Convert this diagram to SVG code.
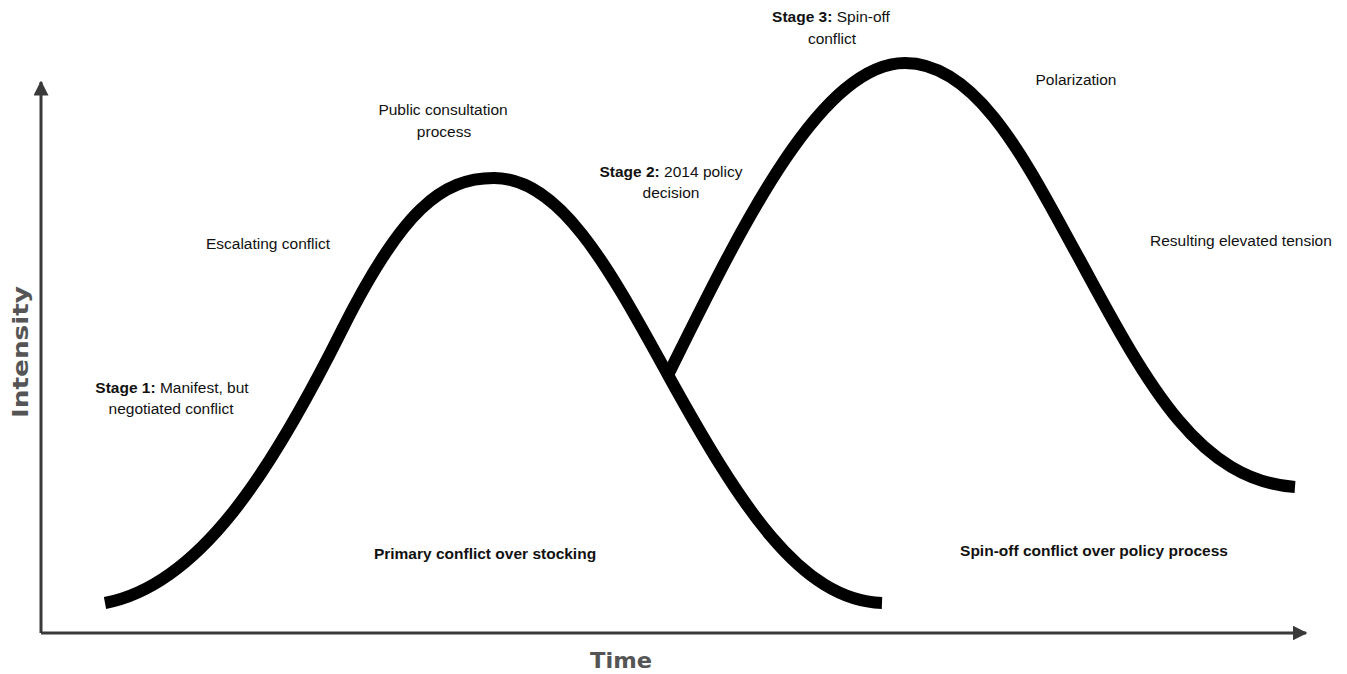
<svg xmlns="http://www.w3.org/2000/svg" width="1347" height="674" viewBox="0 0 1347 674">
<style>
.t{font-family:"Liberation Sans",Arial,sans-serif;font-size:15.5px;fill:#111;text-anchor:middle}
.s{text-anchor:start}
.b{font-weight:bold}
.ax{stroke:#3a3a3a;stroke-width:3;fill:none}
.cv{stroke:#000;stroke-width:12;fill:none;stroke-linecap:butt;stroke-linejoin:round}
.al{font-family:"DejaVu Sans",Verdana,sans-serif;font-weight:bold;font-size:22px;fill:#555;text-anchor:middle}
</style>
<defs>
<marker id="ah" viewBox="0 0 10 10" refX="9" refY="5" markerWidth="5" markerHeight="5" orient="auto" markerUnits="strokeWidth">
<path d="M0,0 L10,5 L0,10 z" fill="#3a3a3a"/>
</marker>
</defs>
<rect width="1347" height="674" fill="#fff"/>
<g id="axes">
<path class="ax" d="M41,633 L41,82" marker-end="url(#ah)"/>
<path class="ax" d="M41,633 L1306,633" marker-end="url(#ah)"/>
<text class="al" transform="translate(28,352) rotate(-90)" textLength="132" lengthAdjust="spacingAndGlyphs">Intensity</text>
<text class="al" x="621" y="668" textLength="62" lengthAdjust="spacingAndGlyphs">Time</text>
</g>
<g id="connectors">
<path id="curve1" class="cv" d="M105,603 C200,585 272,470 342,330 C402,210 442,178 494,178 C561,178 610,270 668,375 C740,505 800,600 882,603"/>
<path id="curve2" class="cv" d="M668,375 C740,230 820,63 905,63 C980,63 1030,170 1080,260 C1150,390 1200,480 1295,487"/>
</g>
<g id="stage1"><text class="t" x="172" y="393"><tspan class="b">Stage 1:</tspan> Manifest, but</text><text class="t" x="171" y="414">negotiated conflict</text></g>
<g id="escalating"><text class="t" x="268" y="249">Escalating conflict</text></g>
<g id="public"><text class="t" x="443" y="115">Public consultation</text><text class="t" x="444" y="137">process</text></g>
<g id="stage2"><text class="t" x="671" y="177"><tspan class="b">Stage 2:</tspan> 2014 policy</text><text class="t" x="671" y="198">decision</text></g>
<g id="stage3"><text class="t" x="831" y="22"><tspan class="b">Stage 3:</tspan> Spin-off</text><text class="t" x="832" y="44">conflict</text></g>
<g id="polarization"><text class="t" x="1076" y="85">Polarization</text></g>
<g id="resulting"><text class="t s" x="1150" y="246">Resulting elevated tension</text></g>
<g id="primary"><text class="t b" x="485" y="559">Primary conflict over stocking</text></g>
<g id="spinoff"><text class="t b" x="1094" y="556">Spin-off conflict over policy process</text></g>
</svg>
